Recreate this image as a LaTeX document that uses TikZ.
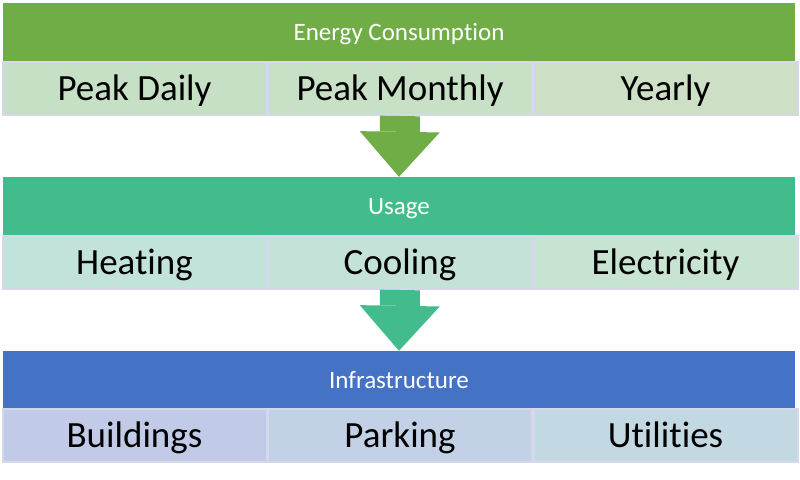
\documentclass[tikz,border=0pt]{standalone}
\usepackage{fontspec}
\setmainfont{Carlito}[Ligatures=NoCommon]
\usetikzlibrary{arrows.meta, positioning}

\definecolor{energygreen}{RGB}{112,173,71}
\definecolor{usageteal}{RGB}{67,188,141}
\definecolor{infrablue}{RGB}{68,114,196}
\definecolor{cellborder}{RGB}{212,216,234}
\definecolor{dailyfill}{RGB}{198,224,198}
\definecolor{monthlyfill}{RGB}{200,224,198}
\definecolor{yearlyfill}{RGB}{205,224,198}
\definecolor{heatingfill}{RGB}{194,227,220}
\definecolor{coolingfill}{RGB}{196,226,216}
\definecolor{electricfill}{RGB}{199,227,210}
\definecolor{buildingsfill}{RGB}{193,202,230}
\definecolor{parkingfill}{RGB}{194,209,230}
\definecolor{utilitiesfill}{RGB}{194,216,227}

\begin{document}
\begin{tikzpicture}[
x=1pt, y=1pt,
bar/.style={rectangle, minimum width=792pt, minimum height=58pt, inner sep=0pt,
  text=white, font=\fontsize{25}{30}\selectfont, text height=16.5pt, text depth=0pt},
cell/.style={rectangle, draw=cellborder, line width=2pt, minimum width=264pt, minimum height=53pt,
  inner sep=0pt, font=\fontsize{37}{44}\selectfont, text height=23.5pt, text depth=0pt},
flow/.style={line width=40pt, -{Triangle[length=45pt, width=80pt, line width=0pt]}}
]
\useasboundingbox (0,0) rectangle (800,-479);

% ENERGY CONSUMPTION
\node (energy) [bar, fill=energygreen] at (399,-32) {Energy Consumption};
\node (daily) [cell, fill=dailyfill] at (134.5,-88.5) {Peak Daily};
\node (monthly) [cell, fill=monthlyfill] at (400,-88.5) {Peak Monthly};
\node (yearly) [cell, fill=yearlyfill] at (665.5,-88.5) {Yearly};

% USAGE
\node (usage) [bar, fill=usageteal] at (399,-206) {Usage};
\node (heating) [cell, fill=heatingfill] at (134.5,-262.5) {Heating};
\node (cooling) [cell, fill=coolingfill] at (400,-262.5) {Cooling};
\node (electric) [cell, fill=electricfill] at (665.5,-262.5) {Electricity};

% INFRASTRUCTURE
\node (infra) [bar, fill=infrablue] at (399,-380) {Infrastructure};
\node (buildings) [cell, fill=buildingsfill] at (134.5,-435.5) {Buildings};
\node (parking) [cell, fill=parkingfill] at (400,-435.5) {Parking};
\node (utilities) [cell, fill=utilitiesfill] at (665.5,-435.5) {Utilities};

% FLECHAS
\draw[flow, energygreen] (monthly.south) -- (usage.north);
\draw[flow, usageteal] (cooling.south) -- (infra.north);

\end{tikzpicture}
\end{document}
